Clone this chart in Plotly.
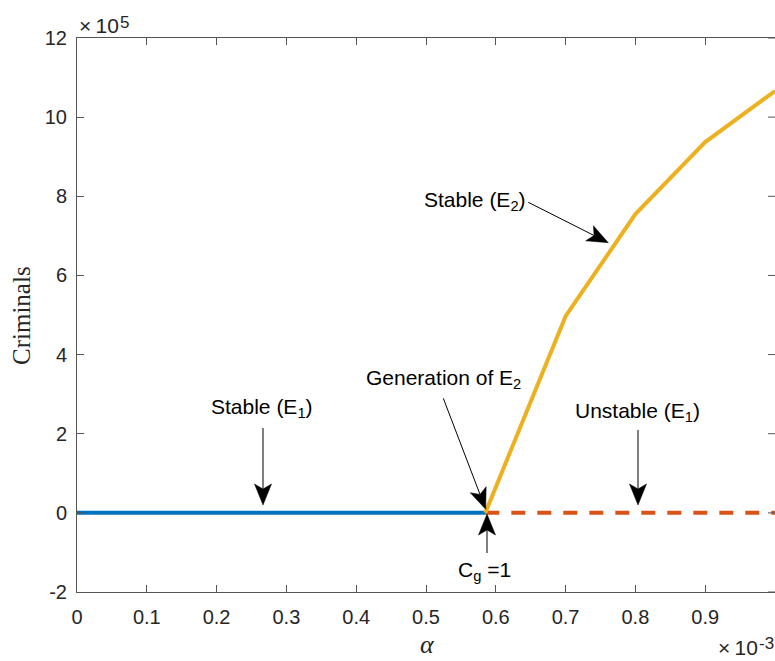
import math
import plotly.graph_objects as go

# ---- data (alpha in units of 1e-3, criminals in units of 1e5) ----
alpha_c = 0.585
alpha_e1_stable = [0.0, alpha_c]
crim_e1_stable = [0.0, 0.0]
alpha_e1_unstable = [alpha_c, 1.0]
crim_e1_unstable = [0.0, 0.0]
alpha_e2 = [alpha_c, 0.7, 0.8, 0.9, 1.0]
crim_e2 = [0.0, 4.97, 7.55, 9.37, 10.66]

x_ticks = [0, 0.1, 0.2, 0.3, 0.4, 0.5, 0.6, 0.7, 0.8, 0.9, 1.0]
x_ticklabels = ["0", "0.1", "0.2", "0.3", "0.4", "0.5", "0.6", "0.7", "0.8", "0.9", "1"]
y_ticks = [-2, 0, 2, 4, 6, 8, 10, 12]
y_ticklabels = ["-2", "0", "2", "4", "6", "8", "10", "12"]

# ---- layout geometry ----
W, H = 775, 661
L, R, T, B = 77, 0, 38, 69
XR = [0, 1.0]
YR = [-2, 12]
PW, PH = W - L - R, H - T - B

def px2x(px):
    return XR[0] + (px - L) / PW * (XR[1] - XR[0])

def py2y(py):
    return YR[1] - (py - T) / PH * (YR[1] - YR[0])

def px2paper(px):
    return (px - L) / PW

def py2paper(py):
    return (T + PH - py) / PH

AX = "#262626"
LINEC = "#555555"
SANS = "Liberation Sans, Arial, Helvetica, sans-serif"
SERIF = "Liberation Serif, Times New Roman, serif"

fig = go.Figure()
fig.add_trace(go.Scatter(x=alpha_e1_unstable, y=crim_e1_unstable, mode="lines",
                         line=dict(color="#D95319", width=4, dash="14px,12px"),
                         showlegend=False, hoverinfo="skip"))
fig.add_trace(go.Scatter(x=alpha_e1_stable, y=crim_e1_stable, mode="lines",
                         line=dict(color="#0072BD", width=4),
                         showlegend=False, hoverinfo="skip"))
fig.add_trace(go.Scatter(x=alpha_e2, y=crim_e2, mode="lines",
                         line=dict(color="#EDB120", width=4),
                         showlegend=False, hoverinfo="skip"))

axis_common = dict(ticks="inside", ticklen=7, tickwidth=1, tickcolor=LINEC,
                   showline=True, linecolor=LINEC, linewidth=1,
                   showgrid=False, zeroline=False,
                   tickfont=dict(family=SANS, size=20, color=AX))

fig.update_layout(
    width=W, height=H,
    margin=dict(l=L, r=R, t=T, b=B, pad=0),
    paper_bgcolor="white", plot_bgcolor="white",
    showlegend=False,
    xaxis=dict(range=XR, tickmode="array", tickvals=x_ticks, ticktext=x_ticklabels,
               mirror="ticks", ticklabelstandoff=7, **axis_common),
    yaxis=dict(range=YR, tickmode="array", tickvals=y_ticks, ticktext=y_ticklabels,
               mirror=False, ticklabelstandoff=5, **axis_common),
)

shapes = []
# right-side tick marks (box with ticks, spine outside the window)
for yv in y_ticks:
    shapes.append(dict(type="line", xref="paper", yref="y", x0=1 - 7 / PW, x1=1,
                       y0=yv, y1=yv, line=dict(color=LINEC, width=1)))

# arrows: tip (pixel) and tail (pixel), MATLAB-like filled head with notch
arrows = [
    ((263, 505), (263, 428)),
    ((638, 505), (638, 430)),
    ((485.7, 509.3), (443.3, 398.3)),
    ((608.3, 242.7), (528.3, 202.3)),
    ((487, 514), (487, 553)),
]
HL, HW, NOTCH = 21.0, 17.0, 0.76
for (tx, ty), (sx, sy) in arrows:
    dx, dy = tx - sx, ty - sy
    d = math.hypot(dx, dy)
    ux, uy = dx / d, dy / d
    nx, ny = -uy, ux
    bx, by = tx - HL * ux, ty - HL * uy
    p1 = (bx + HW / 2 * nx, by + HW / 2 * ny)
    p2 = (bx - HW / 2 * nx, by - HW / 2 * ny)
    pn = (tx - NOTCH * HL * ux, ty - NOTCH * HL * uy)
    shapes.append(dict(type="line", xref="x", yref="y",
                       x0=px2x(sx), y0=py2y(sy), x1=px2x(pn[0]), y1=py2y(pn[1]),
                       line=dict(color="black", width=1)))
    pts = [(tx, ty), p1, pn, p2]
    path = "M " + " L ".join(f"{px2x(a):.6f},{py2y(b):.6f}" for a, b in pts) + " Z"
    shapes.append(dict(type="path", xref="x", yref="y", path=path,
                       fillcolor="black", line=dict(color="black", width=0.5)))

ann = []
# exponent labels (base and exponent as separate texts, MATLAB-size superscript)
def add_exp(base_left_px, base_mid_py, exp_text):
    ann.append(dict(xref="paper", yref="paper", x=px2paper(base_left_px), y=py2paper(base_mid_py),
                    xanchor="left", yanchor="middle", showarrow=False,
                    text="×\u200910", font=dict(family=SANS, size=21, color=AX)))
    ann.append(dict(xref="paper", yref="paper", x=px2paper(base_left_px + 41),
                    y=py2paper(base_mid_py - 4),
                    xanchor="left", yanchor="middle", showarrow=False,
                    text=exp_text, font=dict(family=SANS, size=17, color=AX)))

add_exp(77, 26, "5")
add_exp(716, 647, "-3")

# axis titles
ann.append(dict(xref="paper", yref="paper", x=px2paper(21), y=0.5,
                xanchor="center", yanchor="middle", showarrow=False, textangle=-90,
                text="Criminals", font=dict(family=SERIF, size=25, color=AX)))
ann.append(dict(xref="paper", yref="paper", x=px2paper(427), y=py2paper(644),
                xanchor="center", yanchor="middle", showarrow=False,
                text="<i>α</i>", font=dict(family=SERIF, size=26, color=AX)))

# text labels (pixel centres)
labels = [
    ("Stable (E<sub>1</sub>)", 262, 408),
    ("Unstable (E<sub>1</sub>)", 637.5, 412),
    ("Generation of E<sub>2</sub>", 443, 379),
    ("Stable (E<sub>2</sub>)", 474.7, 201),
    ("C<sub>g</sub> =1", 484, 571),
]
for txt, px, py in labels:
    ann.append(dict(x=px2x(px), y=py2y(py), xref="x", yref="y", text=txt,
                    showarrow=False, xanchor="center", yanchor="middle",
                    font=dict(family=SANS, size=21, color="black")))

fig.update_layout(annotations=ann, shapes=shapes)

fig.write_html("out.html")
